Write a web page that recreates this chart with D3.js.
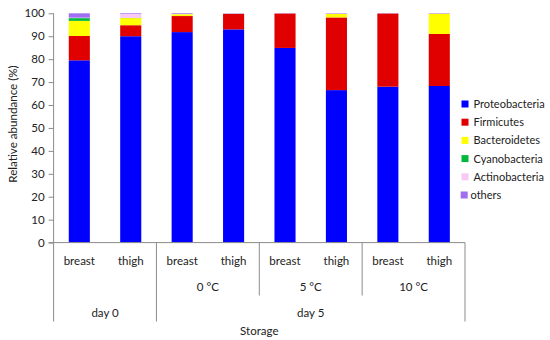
<!DOCTYPE html>
<html>
<head>
<meta charset="utf-8">
<script src="https://cdn.jsdelivr.net/npm/d3@7"></script>
<style>
  body { margin: 0; background: #fff; }
  svg text { font-family: Lato, "Open Sans", sans-serif; fill: #222; }
</style>
</head>
<body>
<svg id="chart" width="550" height="340"></svg>
<script>
// data
const samples = ["breast", "thigh", "breast", "thigh", "breast", "thigh", "breast", "thigh"];
const temps = ["", "0 °C", "5 °C", "10 °C"];
const days = ["day 0", "day 5"];
const daySpan = [1, 3];   // number of temperature groups under each day
const phyla = ["Proteobacteria", "Firmicutes", "Bacteroidetes", "Cyanobacteria", "Actinobacteria", "others"];
const colors = ["#0000ff", "#e00000", "#ffff00", "#00b83c", "#f9c8f4", "#a06ef0"];

const proteobacteria = [79.5, 90.0, 91.8, 93.0, 84.9, 66.5, 68.0, 68.3];
const firmicutes     = [10.6, 4.8, 7.0, 6.7, 15.0, 31.7, 31.9, 22.7];
const bacteroidetes  = [6.6, 3.1, 0.8, 0.1, 0.0, 1.5, 0.0, 8.8];
const cyanobacteria  = [1.2, 0.1, 0.0, 0.0, 0.0, 0.0, 0.0, 0.0];
const actinobacteria = [0.2, 1.7, 0.1, 0.0, 0.0, 0.1, 0.0, 0.0];
const others         = [1.9, 0.3, 0.3, 0.2, 0.1, 0.2, 0.1, 0.2];

const series = [proteobacteria, firmicutes, bacteroidetes, cyanobacteria, actinobacteria, others];

const rows = samples.map((s, i) => {
  const r = { idx: i };
  phyla.forEach((p, k) => r[p] = series[k][i]);
  return r;
});

const svg = d3.select("#chart");
const axisColor = "#8c8c8c";

// Scales _____________________________________
const x = d3.scaleBand()
    .domain(samples.map((d, i) => i))
    .range([53.6, 465])
    .padding(0);

const y = d3.scaleLinear()
    .domain([0, 100])
    .range([242.6, 13.3]);

const barW = x.bandwidth() * 0.41;

// Bars _____________________________________
const stacked = d3.stack().keys(phyla)(rows);

svg.append("g")
  .selectAll("g")
  .data(stacked)
  .join("g")
    .attr("fill", (d, i) => colors[i])
  .selectAll("rect")
  .data(d => d)
  .join("rect")
    .attr("x", d => x(d.data.idx) + (x.bandwidth() - barW) / 2)
    .attr("width", barW)
    .attr("y", d => y(d[1]))
    .attr("height", d => y(d[0]) - y(d[1]));

// Y axis _____________________________________
const yAxis = svg.append("g")
    .attr("transform", "translate(53.6,0)")
    .call(d3.axisLeft(y).tickValues(d3.range(0, 101, 10)).tickSize(5).tickPadding(4));
yAxis.select(".domain").attr("stroke", axisColor).attr("d", `M0,${y(0)}V${y(100)}`);
yAxis.selectAll(".tick line").attr("stroke", axisColor);
yAxis.selectAll(".tick text").style("font-size", "11.5px").attr("fill", "#222");

svg.append("text")
    .attr("transform", `translate(17,124) rotate(-90)`)
    .attr("text-anchor", "middle")
    .style("font-size", "11.6px")
    .text("Relative abundance (%)");

// X axis (three levels) _____________________________________
const x0 = x.range()[0], x1 = x.range()[1];
const groupW = x.bandwidth() * 2;

svg.append("line")
    .attr("x1", x0 - 5).attr("x2", x1)
    .attr("y1", y(0)).attr("y2", y(0))
    .attr("stroke", axisColor);

// level 1: sample labels
svg.append("g")
  .selectAll("text")
  .data(samples)
  .join("text")
    .attr("x", (d, i) => x(i) + x.bandwidth() / 2)
    .attr("y", 265)
    .attr("text-anchor", "middle")
    .style("font-size", "11.5px")
    .text(d => d);

// level 2: temperature
svg.append("g")
  .selectAll("text")
  .data(temps)
  .join("text")
    .attr("x", (d, i) => x0 + groupW * i + groupW / 2)
    .attr("y", 291)
    .attr("text-anchor", "middle")
    .style("font-size", "11.5px")
    .text(d => d);

// level 3: day
let start = 0;
const dayPos = daySpan.map(n => { const p = { from: start, to: start + n }; start += n; return p; });

svg.append("g")
  .selectAll("text")
  .data(days)
  .join("text")
    .attr("x", (d, i) => x0 + groupW * (dayPos[i].from + dayPos[i].to) / 2)
    .attr("y", 317)
    .attr("text-anchor", "middle")
    .style("font-size", "11.5px")
    .text(d => d);

// separators: long ones at day boundaries, short ones between temperatures
const longSep = [0].concat(dayPos.map(p => p.to));
const shortSep = d3.range(2, temps.length);

svg.append("g")
  .selectAll("line")
  .data(longSep)
  .join("line")
    .attr("x1", d => x0 + groupW * d).attr("x2", d => x0 + groupW * d)
    .attr("y1", y(0)).attr("y2", 321.5)
    .attr("stroke", axisColor);

svg.append("g")
  .selectAll("line")
  .data(shortSep)
  .join("line")
    .attr("x1", d => x0 + groupW * d).attr("x2", d => x0 + groupW * d)
    .attr("y1", y(0)).attr("y2", 295.5)
    .attr("stroke", axisColor);

svg.append("text")
    .attr("x", (x0 + x1) / 2)
    .attr("y", 335)
    .attr("text-anchor", "middle")
    .style("font-size", "11.5px")
    .text("Storage");

// Legend _____________________________________
const legend = svg.append("g")
  .selectAll("g")
  .data(phyla)
  .join("g")
    .attr("transform", (d, i) => `translate(461.5,${104 + i * 18.2})`);

legend.append("rect")
    .attr("x", (d, i) => i === 5 ? -0.8 : 0)
    .attr("y", -3.5)
    .attr("width", 7).attr("height", 7)
    .attr("fill", (d, i) => colors[i]);

legend.append("text")
    .attr("x", (d, i) => i === 5 ? 9 : 12)
    .attr("y", 4)
    .style("font-size", "11px")
    .text(d => d);
</script>
</body>
</html>
